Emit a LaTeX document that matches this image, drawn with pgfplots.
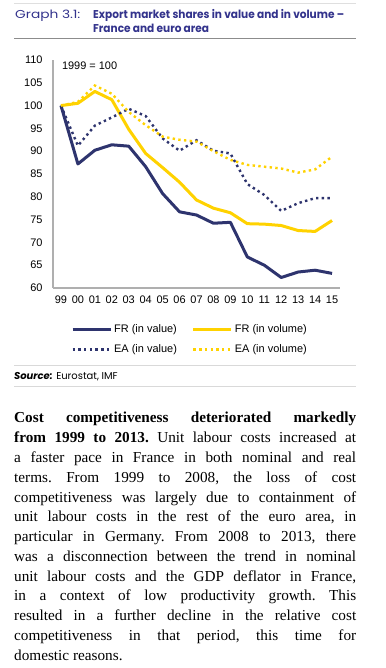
\documentclass[border=0pt]{standalone}
\usepackage{fontspec}
\setmainfont{Liberation Serif}
\newfontfamily\arial{Liberation Sans}
\newfontfamily\gothic{Poppins}
\usepackage{graphicx}
\usepackage{pgfplots}
\pgfplotsset{compat=1.18}
\usepackage{pgfplotstable}
\definecolor{navy}{RGB}{46,52,110}
\definecolor{gold}{RGB}{255,210,0}
\definecolor{titleblue}{RGB}{51,51,140}
\definecolor{axisgray}{RGB}{175,175,175}

\pgfplotstableread{
idx frv frvol eav eavol
0 100.0 100.0 100.0 100.0
1 87.2 100.5 91.2 100.8
2 90.2 103.1 95.6 104.4
3 91.4 101.3 97.4 102.6
4 91.1 94.8 99.3 98.6
5 86.6 89.5 97.7 95.7
6 80.7 86.4 92.8 93.2
7 76.7 83.2 90.1 92.5
8 76.0 79.3 92.4 92.1
9 74.2 77.5 90.1 90.0
10 74.4 76.5 89.5 88.1
11 66.8 74.1 82.8 87.0
12 65.0 74.0 80.4 86.6
13 62.3 73.7 76.9 86.2
14 63.5 72.6 78.6 85.3
15 63.9 72.4 79.7 86.0
16 63.2 74.8 79.7 88.8
}\data

\newcommand\jl[1]{\makebox[\linewidth][s]{#1}\par}

\begin{document}
\begin{tikzpicture}[x=1bp,y=1bp]
\useasboundingbox (0,0) rectangle (385,668);
% rules
\draw[gray!25, line width=0.6bp] (14,665) -- (356,665);
\draw[gray!90, line width=1bp] (14,629) -- (356,629);
\draw[gray!30, line width=0.8bp] (14,303) -- (356,303);
\draw[gray!30, line width=0.8bp] (14,282) -- (356,282);
% title
\node[anchor=base west, inner sep=0, text=titleblue, font=\gothic\fontsize{11.5}{13}\selectfont] at (15,649) {\scalebox{1.2}[1]{Graph 3.1:}};
\node[anchor=base west, inner sep=0, text=titleblue, font=\gothic\bfseries\fontsize{11.4}{13}\selectfont] at (93,649) {\scalebox{0.93}[1]{Export market shares in value and in volume –}};
\node[anchor=base west, inner sep=0, text=titleblue, font=\gothic\bfseries\fontsize{11.4}{13}\selectfont] at (93,635) {\scalebox{0.93}[1]{France and euro area}};
% source
\node[anchor=base west, inner sep=0, font=\gothic\fontsize{10}{12}\selectfont] at (14,288) {\textbf{\textit{Source:}} Eurostat, IMF};
% paragraph
\node[anchor=base west, inner sep=0] at (14,245) {\parbox[t]{342bp}{\fontsize{15.3}{19.85}\selectfont\frenchspacing\parindent=0pt\parskip=0pt
\jl{\textbf{Cost competitiveness deteriorated markedly}}
\jl{\textbf{from 1999 to 2013.} Unit labour costs increased at}
\jl{a faster pace in France in both nominal and real}
\jl{terms. From 1999 to 2008, the loss of cost}
\jl{competitiveness was largely due to containment of}
\jl{unit labour costs in the rest of the euro area, in}
\jl{particular in Germany. From 2008 to 2013, there}
\jl{was a disconnection between the trend in nominal}
\jl{unit labour costs and the GDP deflator in France,}
\jl{in a context of low productivity growth. This}
\jl{resulted in a further decline in the relative cost}
\jl{competitiveness in that period, this time for}
domestic reasons.}};

\begin{axis}[
  at={(53bp,608bp)}, anchor=north west,
  scale only axis, width=287bp, height=228bp,
  xmin=-0.47, xmax=16.47, ymin=60, ymax=110,
  axis x line*=bottom, axis y line*=left,
  axis line style={axisgray, line width=1.3bp, -},
  major tick length=0pt,
  ytick={60,65,...,110},
  xtick={0,...,16},
  xticklabels={99,00,01,02,03,04,05,06,07,08,09,10,11,12,13,14,15},
  tick label style={font=\arial\fontsize{11}{13}\selectfont, black},
  /pgf/number format/assume math mode=true,
  yticklabel style={xshift=-7bp},
  xticklabel style={yshift=-4bp},
  legend columns=2,
  legend cell align=left,
  legend style={draw=none, fill=none, at={(axis description cs:0.0627,-0.15)}, anchor=north west,
    font=\arial\fontsize{11}{13}\selectfont, inner sep=0pt, row sep=7bp,
    /tikz/every even column/.append style={column sep=13bp}},
  legend image code/.code={\draw[#1] (0bp,0bp) -- (38bp,0bp);},
  clip=false,
]
\addplot[navy, line width=3bp, line join=round] table[x=idx, y=frv] {\data};
\addlegendentry{FR (in value)}
\addplot[gold, line width=3bp, line join=round] table[x=idx, y=frvol] {\data};
\addlegendentry{FR (in volume)}
\addplot[navy, line width=2.4bp, dash pattern=on 2.4bp off 3.3bp] table[x=idx, y=eav] {\data};
\addlegendentry{EA (in value)}
\addplot[gold, line width=2.4bp, dash pattern=on 2.4bp off 3.3bp] table[x=idx, y=eavol] {\data};
\addlegendentry{EA (in volume)}
\node[anchor=west, inner sep=0, font=\arial\fontsize{11}{13}\selectfont] at (axis cs:0.05,108.7) {1999 = 100};
\end{axis}
\end{tikzpicture}
\end{document}
